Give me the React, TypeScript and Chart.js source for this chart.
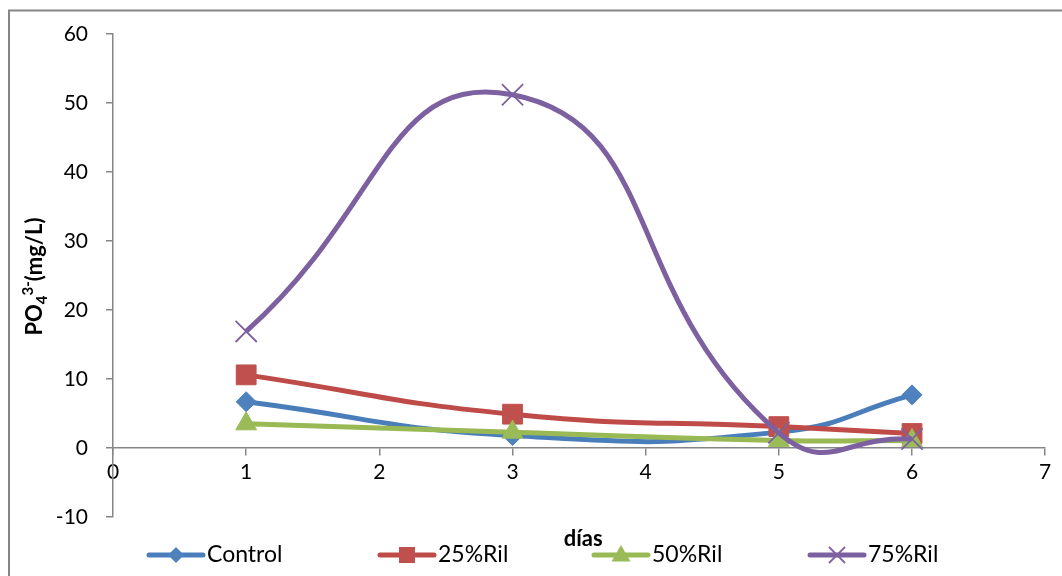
import { useEffect, useRef } from "react";
import { Chart, registerables } from "chart.js";

Chart.register(...registerables);

// Sampling days (x values) and phosphate concentration per treatment (mg/L)
const dias = [1, 3, 5, 6];
const control = [6.7, 1.8, 2.3, 7.7];
const ril25 = [10.6, 4.9, 3.1, 2.1];
const ril50 = [3.5, 2.3, 1.1, 1.1];
const ril75 = [16.9, 51.2, 2.2, 1.3];

const seriesNames = ["Control", "25%Ril", "50%Ril", "75%Ril"];
const lineColors = ["#4A7EBB", "#BE4B48", "#98B954", "#7D60A0"];
const markerColors = ["#4F81BD", "#C0504D", "#9BBB59", "#8064A2"];
const tensions = [0.5, 0.5, 0.5, 0.52];

const X_MIN = 0;
const X_MAX = 7;
const Y_MIN = -10;
const Y_MAX = 60;
const Y_STEP = 10;

const FONT = 'Lato, "Open Sans", sans-serif';
const AXIS_GREY = "#868686";

// Left edge of each legend entry (line sample start)
const legendX = [147, 378, 592, 808];
const legendY = 555;

const toPoints = (ys: number[]) => ys.map((y, i) => ({ x: dias[i], y }));

type Shape = "rectRot" | "rect" | "triangle" | "crossRot";
const shapes: Shape[] = ["rectRot", "rect", "triangle", "crossRot"];
const radii = [10, 14, 12, 15];

function drawMarker(ctx: CanvasRenderingContext2D, shape: Shape, x: number, y: number, s: number, fill: string, stroke: string) {
  ctx.save();
  ctx.fillStyle = fill;
  ctx.strokeStyle = stroke;
  ctx.beginPath();
  if (shape === "rectRot") {
    ctx.moveTo(x, y - s);
    ctx.lineTo(x + s, y);
    ctx.lineTo(x, y + s);
    ctx.lineTo(x - s, y);
    ctx.closePath();
    ctx.fill();
  } else if (shape === "rect") {
    ctx.rect(x - s, y - s, 2 * s, 2 * s);
    ctx.fill();
  } else if (shape === "triangle") {
    ctx.moveTo(x, y - s);
    ctx.lineTo(x + s * 0.95, y + s * 0.65);
    ctx.lineTo(x - s * 0.95, y + s * 0.65);
    ctx.closePath();
    ctx.fill();
  } else {
    ctx.lineWidth = 1.8;
    ctx.moveTo(x - s, y - s);
    ctx.lineTo(x + s, y + s);
    ctx.moveTo(x + s, y - s);
    ctx.lineTo(x - s, y + s);
    ctx.stroke();
  }
  ctx.restore();
}

// Outer chart frame (cut by the canvas edges on the right and bottom)
const framePlugin = {
  id: "frame",
  beforeDraw(chart: Chart) {
    const ctx = chart.ctx;
    ctx.save();
    ctx.fillStyle = "#ffffff";
    ctx.fillRect(0, 0, chart.width, chart.height);
    ctx.strokeStyle = AXIS_GREY;
    ctx.lineWidth = 2;
    ctx.strokeRect(9, 10.5, chart.width + 20, chart.height + 20);
    ctx.restore();
  },
};

// Axis titles: rotated PO4 3- title with sub/superscripts and "días"
const titlesPlugin = {
  id: "titles",
  afterDraw(chart: Chart) {
    const ctx = chart.ctx;
    const { top, bottom, left, right } = chart.chartArea;
    const parts = [
      { t: "PO", size: 22, dy: 0 },
      { t: "4", size: 15, dy: 5 },
      { t: "3-", size: 15, dy: -9 },
      { t: "(mg/L)", size: 22, dy: 0 },
    ];
    ctx.save();
    ctx.fillStyle = "#000";
    ctx.textBaseline = "alphabetic";
    ctx.textAlign = "left";
    let total = 0;
    const widths = parts.map((p) => {
      ctx.font = `bold ${p.size}px ${FONT}`;
      const w = ctx.measureText(p.t).width;
      total += w;
      return w;
    });
    ctx.translate(0, (top + bottom) / 2 + 1);
    ctx.rotate(-Math.PI / 2);
    let cx = -total / 2;
    parts.forEach((p, i) => {
      ctx.font = `bold ${p.size}px ${FONT}`;
      ctx.fillText(p.t, cx, 42 + p.dy);
      cx += widths[i];
    });
    ctx.restore();

    ctx.save();
    ctx.fillStyle = "#000";
    ctx.font = `bold 22px ${FONT}`;
    ctx.textAlign = "center";
    ctx.textBaseline = "middle";
    ctx.fillText("días", (left + right) / 2 + 4, 539);
    ctx.restore();
  },
};

// Bottom legend: line sample with marker, then series name
const legendPlugin = {
  id: "bottomLegend",
  afterDraw(chart: Chart) {
    const ctx = chart.ctx;
    seriesNames.forEach((name, i) => {
      const x0 = legendX[i];
      ctx.save();
      ctx.strokeStyle = lineColors[i];
      ctx.lineWidth = 5;
      ctx.lineCap = "round";
      ctx.beginPath();
      ctx.moveTo(x0 + 2, legendY);
      ctx.lineTo(x0 + 56, legendY);
      ctx.stroke();
      ctx.restore();
      const sizes = [8, 8, 10, 8];
      drawMarker(ctx, shapes[i], x0 + 29, legendY, sizes[i], markerColors[i], markerColors[i]);
      ctx.save();
      ctx.fillStyle = "#000";
      ctx.font = `23px ${FONT}`;
      ctx.textAlign = "left";
      ctx.textBaseline = "middle";
      ctx.fillText(name, x0 + 60, legendY);
      ctx.restore();
    });
  },
};

export default function App() {
  const canvasRef = useRef<HTMLCanvasElement | null>(null);

  useEffect(() => {
    const canvas = canvasRef.current;
    if (!canvas) return;
    const seriesValues = [control, ril25, ril50, ril75];
    const chart = new Chart(canvas, {
      type: "line",
      data: {
        datasets: seriesNames.map((name, i) => ({
          label: name,
          data: toPoints(seriesValues[i]),
          borderColor: lineColors[i],
          backgroundColor: markerColors[i],
          borderWidth: 5,
          tension: tensions[i],
          fill: false,
          pointStyle: shapes[i],
          pointRadius: radii[i],
          pointHoverRadius: radii[i],
          pointBackgroundColor: markerColors[i],
          pointBorderColor: i === 3 ? lineColors[i] : markerColors[i],
          pointBorderWidth: i === 3 ? 1.8 : 1,
          order: seriesNames.length - i,
        })),
      },
      options: {
        animation: false,
        responsive: false,
        maintainAspectRatio: false,
        layout: { padding: { left: 0, top: 34, right: 16, bottom: 59 } },
        plugins: {
          legend: { display: false },
          tooltip: { enabled: false },
          title: { display: false },
        },
        scales: {
          x: {
            type: "linear",
            min: X_MIN,
            max: X_MAX,
            position: { y: 0 },
            afterFit: (scale: any) => {
              scale.height = 0;
            },
            ticks: {
              stepSize: 1,
              color: "#000",
              font: { family: FONT, size: 21 },
              padding: 5,
              maxRotation: 0,
            },
            grid: {
              drawOnChartArea: false,
              drawTicks: true,
              tickLength: 7,
              color: AXIS_GREY,
              lineWidth: 1.5,
            },
            border: { color: AXIS_GREY, width: 1.5 },
          },
          y: {
            type: "linear",
            min: Y_MIN,
            max: Y_MAX,
            afterFit: (scale: any) => {
              scale.width = 113;
            },
            ticks: {
              stepSize: Y_STEP,
              color: "#000",
              font: { family: FONT, size: 21 },
              padding: 18,
            },
            grid: {
              drawOnChartArea: false,
              drawTicks: true,
              tickLength: 7,
              color: AXIS_GREY,
              lineWidth: 1.5,
            },
            border: { color: AXIS_GREY, width: 1.5 },
          },
        },
      },
      plugins: [framePlugin, titlesPlugin, legendPlugin],
    });
    return () => chart.destroy();
  }, []);

  return (
    <div style={{ position: "absolute", left: 0, top: 0, width: 1062, height: 576 }}>
      <canvas ref={canvasRef} width={1062} height={576} style={{ display: "block" }} />
    </div>
  );
}
